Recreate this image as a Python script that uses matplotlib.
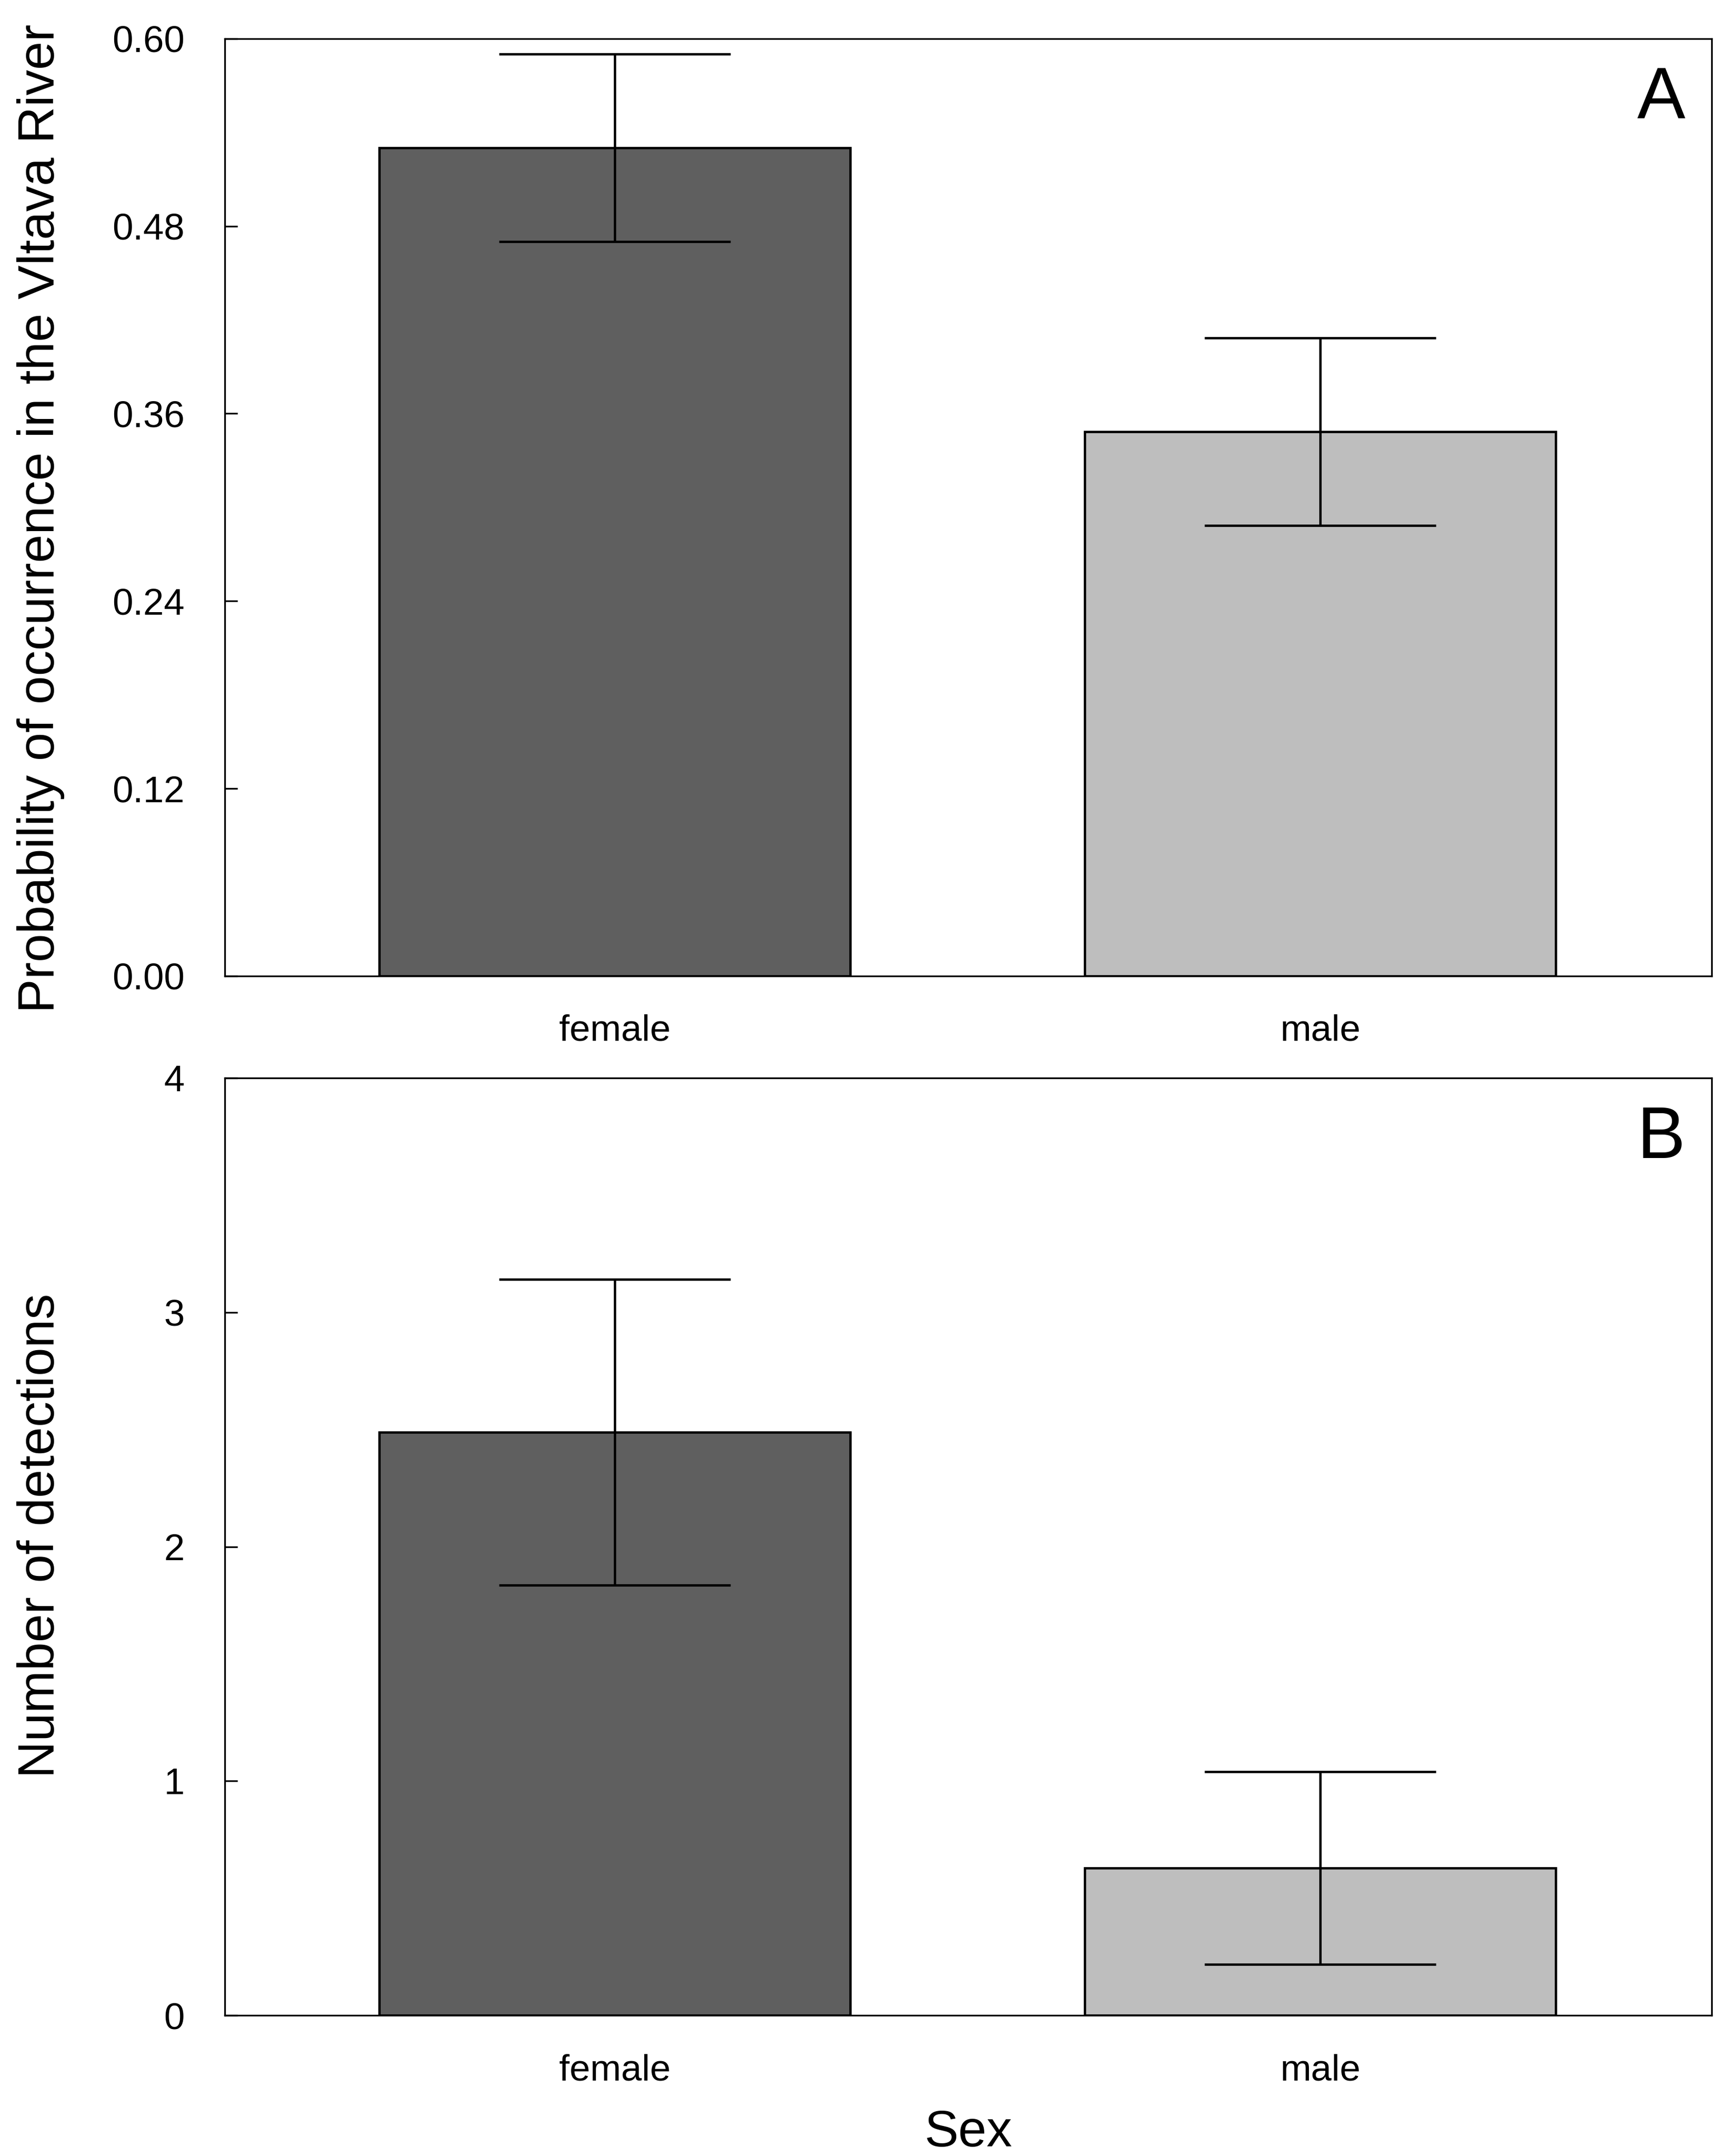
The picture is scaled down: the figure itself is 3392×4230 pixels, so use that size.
import matplotlib
matplotlib.use("Agg")
import matplotlib.pyplot as plt
import numpy as np

plt.rcParams['font.family'] = ['Liberation Sans', 'DejaVu Sans']

sexes = ["female", "male"]
colors = ["#5f5f5f", "#bebebe"]

prob_mean = [0.530, 0.3485]
prob_se = [0.060, 0.060]
prob_ticks = [0.00, 0.12, 0.24, 0.36, 0.48, 0.60]

det_mean = [2.488, 0.629]
det_se = [0.653, 0.411]
det_ticks = [0, 1, 2, 3, 4]

fig = plt.figure(figsize=(3392/300, 4230/300), dpi=300)
axA = fig.add_axes([0.130, 0.5473, 0.860, 0.4348])
axB = fig.add_axes([0.130, 0.0652, 0.860, 0.4348])

x = np.arange(len(sexes))
barw = 0.668
capw = 0.164

def panel(ax, mean, se, ticks, fmt, ylabel, letter, ylim, label_y):
    ax.bar(x, mean, width=barw, color=colors, edgecolor="black", linewidth=1.1, zorder=2)
    lo = np.array(mean) - np.array(se)
    hi = np.array(mean) + np.array(se)
    ax.vlines(x, lo, hi, color="black", linewidth=1.1, zorder=3)
    ax.hlines(lo, x - capw, x + capw, color="black", linewidth=1.1, zorder=3)
    ax.hlines(hi, x - capw, x + capw, color="black", linewidth=1.1, zorder=3)
    ax.set_xlim(-0.553, 1.555)
    ax.set_ylim(*ylim)
    ax.set_yticks(ticks)
    ax.set_yticklabels([fmt.format(t) for t in ticks])
    ax.set_xticks(x)
    ax.set_xticklabels(sexes)
    ax.tick_params(axis="y", direction="in", length=6, width=0.8, pad=19, labelsize=17.5)
    ax.tick_params(axis="x", length=0, pad=18, labelsize=17.5)
    for s in ax.spines.values():
        s.set_linewidth(0.8)
    ax.set_ylabel(ylabel, fontsize=24)
    ax.yaxis.set_label_coords(-0.1075, label_y)
    ax.text(0.966, 0.935, letter, transform=ax.transAxes, fontsize=34,
            ha="center", va="center")

panel(axA, prob_mean, prob_se, prob_ticks, "{:.2f}",
      "Probability of occurrence in the Vltava River", "A", (0, 0.60), 0.488)
panel(axB, det_mean, det_se, det_ticks, "{:d}",
      "Number of detections", "B", (0, 4), 0.512)
axB.set_xlabel("Sex", fontsize=24)
axB.xaxis.set_label_coords(0.5, -0.100)

fig.savefig("out.png", dpi=300)
